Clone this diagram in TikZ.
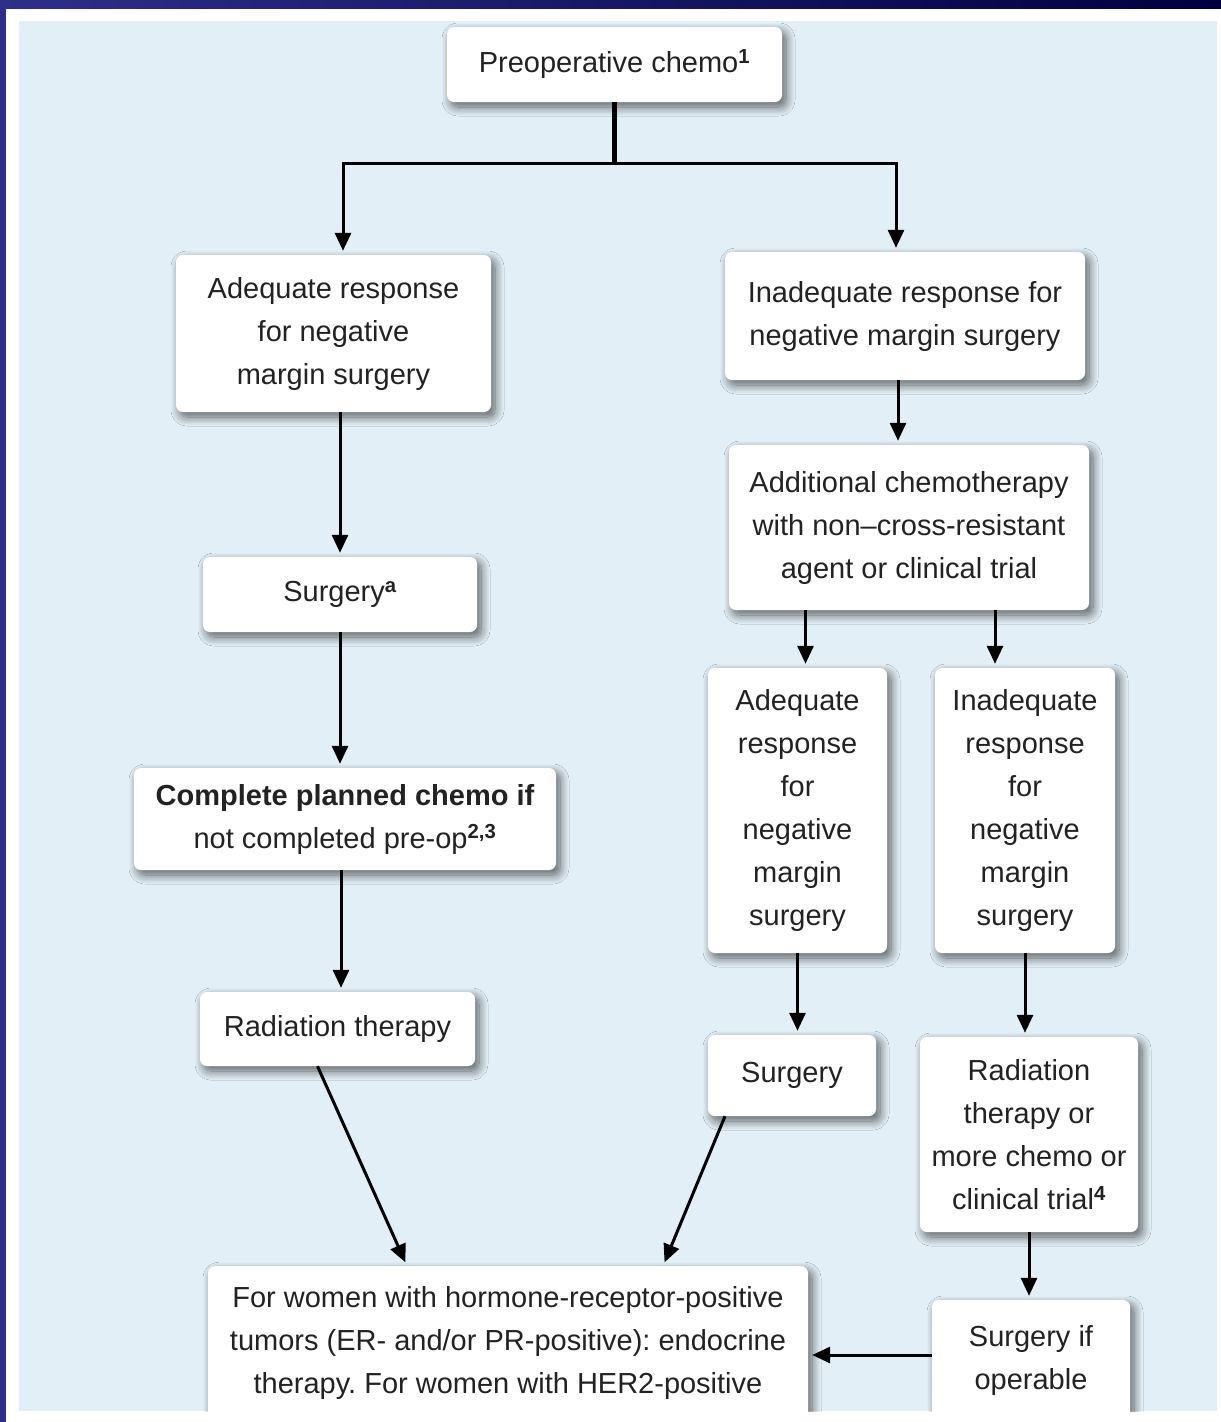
\documentclass[tikz,border=0pt]{standalone}
\usepackage{fontspec}
\setmainfont{Liberation Sans}
\frenchspacing
\usetikzlibrary{arrows.meta,shadows.blur}

\definecolor{frameblue}{HTML}{2E2F88}
\definecolor{framenavy}{HTML}{000040}
\definecolor{paleblue}{HTML}{E2EFF6}
\definecolor{inkgray}{HTML}{222222}

\tikzset{
  box/.style={fill=white, rounded corners=7pt, inner sep=0pt, align=center,
    text=inkgray, font=\fontsize{29}{43}\selectfont,
    blur shadow={shadow xshift=4pt, shadow yshift=-5pt,
      shadow blur radius=9pt, shadow blur steps=12, shadow opacity=60}},
  link/.style={line width=3pt, black},
  arrow/.style={link, -{Triangle[length=18pt,width=16pt]}, shorten >=4pt},
}

\begin{document}
\begin{tikzpicture}[x=1pt,y=-1pt]
\useasboundingbox (0,0) rectangle (1221,1422);

% frame and background
\fill[white] (0,0) rectangle (1221,1422);
\shade[left color=frameblue, right color=framenavy] (0,0) rectangle (1221,8);
\fill[frameblue] (0,0) rectangle (6,1422);
\fill[paleblue] (19,21) rectangle (1217,1411);

\begin{scope}
\clip (19,21) rectangle (1217,1411);

% left column
\node[box, minimum width=335pt, minimum height=75pt] (pre) at (614.5,64.5)
  {Preoperative chemo\textsuperscript{\bfseries 1}};
\node[box, minimum width=315pt, minimum height=157pt] (adq) at (333.5,333.5)
  {Adequate response\\for negative\\margin surgery};
\node[box, minimum width=274pt, minimum height=75pt] (surgA) at (340,594.5)
  {Surgery\textsuperscript{\bfseries a}};
\node[box, minimum width=422pt, minimum height=102pt] (complete) at (345,819)
  {\bfseries Complete planned chemo if\\not completed pre-op\textsuperscript{\bfseries 2,3}};
\node[box, minimum width=275pt, minimum height=74pt] (rad) at (337.5,1029)
  {Radiation therapy};

% right column
\node[box, minimum width=360pt, minimum height=128pt] (inadq) at (905,316)
  {Inadequate response for\\negative margin surgery};
\node[box, minimum width=360pt, minimum height=165pt] (addl) at (909,527.5)
  {Additional chemotherapy\\with non--cross-resistant\\agent or clinical trial};
\node[box, minimum width=179pt, minimum height=285pt] (adq2) at (797.5,810.5)
  {Adequate\\response\\for\\negative\\margin\\surgery};
\node[box, minimum width=180pt, minimum height=285pt] (inadq2) at (1025,810.5)
  {Inadequate\\response\\for\\negative\\margin\\surgery};
\node[box, minimum width=168pt, minimum height=81pt] (surg2) at (792,1075.5)
  {Surgery};
\node[box, minimum width=218pt, minimum height=195pt] (radmore) at (1029,1134.5)
  {Radiation\\therapy or\\more chemo or\\clinical trial\textsuperscript{\bfseries 4}};
\node[box, minimum width=198pt, minimum height=120pt] (surgop) at (1031,1360)
  {Surgery if\\operable};

% bottom
\node[box, anchor=north, minimum width=600pt] (final) at (508,1266)
  {\parbox[t][170pt][t]{600pt}{\centering\vspace*{20pt}%
   For women with hormone-receptor-positive\\
   tumors (ER- and/or PR-positive): endocrine\\
   therapy. For women with HER2-positive}};

% connectors
\draw[link, line width=5pt] (pre.south) -- ++(0,61) coordinate (fork);
\draw[arrow] (fork) -| ([xshift=9.5pt]adq.north);
\draw[arrow] (fork) -| ([xshift=-9pt]inadq.north);

\draw[arrow] (adq.south -| surgA.north) -- (surgA.north);
\draw[arrow] (surgA.south) -- (surgA.south |- complete.north);
\draw[arrow] ([xshift=-4pt]complete.south) -- ([xshift=-4pt]complete.south |- rad.north);
\draw[arrow] ([xshift=-20pt]rad.south) -- ([xshift=-101pt]final.north);

\draw[arrow] ([xshift=-7pt]inadq.south) -- ([xshift=-7pt]inadq.south |- addl.north);
\draw[arrow] ([xshift=8pt]adq2.north |- addl.south) -- ([xshift=8pt]adq2.north);
\draw[arrow] ([xshift=-30pt]inadq2.north |- addl.south) -- ([xshift=-30pt]inadq2.north);
\draw[arrow] (adq2.south) -- (adq2.south |- surg2.north);
\draw[arrow] (inadq2.south) -- (inadq2.south |- radmore.north);
\draw[arrow] (radmore.south) -- (radmore.south |- surgop.north);
\draw[arrow] ([xshift=-67pt]surg2.south) -- ([xshift=155pt]final.north);
\draw[arrow] ([yshift=5pt]surgop.west) -- ([yshift=5pt]surgop.west -| final.east);
\end{scope}
\end{tikzpicture}
\end{document}
